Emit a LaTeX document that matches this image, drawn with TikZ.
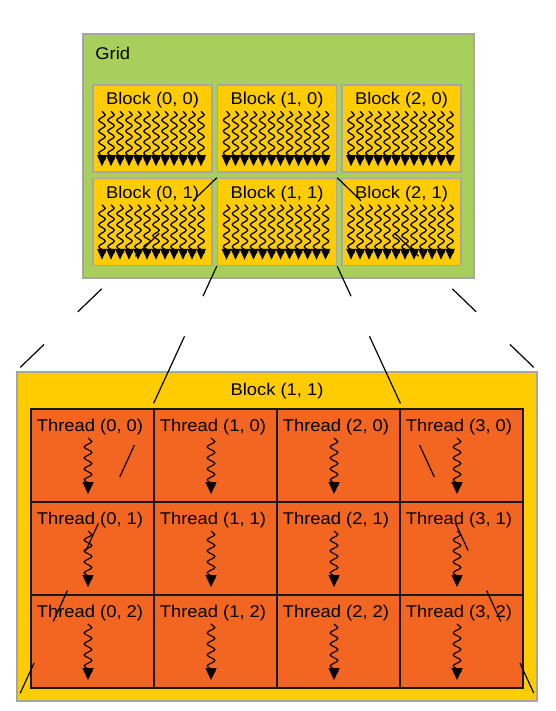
\documentclass[tikz,border=0pt]{standalone}
\usepackage{fontspec}
\setmainfont[FakeStretch=1.08]{Liberation Sans}
\usetikzlibrary{arrows.meta, positioning, decorations.pathmorphing}
\definecolor{gridgreen}{RGB}{168,206,92}
\definecolor{blockyellow}{RGB}{255,204,0}
\definecolor{threadorange}{RGB}{242,102,34}

\begin{document}
\begin{tikzpicture}[
    x=1pt, y=-1pt,
    gridbox/.style={rectangle, draw=black!35, fill=gridgreen, line width=1.5pt, minimum width=391pt, minimum height=244pt, inner sep=0pt},
    blockbox/.style={rectangle, draw=black!35, fill=blockyellow, line width=1.5pt, minimum width=119pt, minimum height=87pt, inner sep=0pt},
    bigbox/.style={rectangle, draw=black!35, fill=blockyellow, line width=1.5pt, minimum width=520pt, minimum height=329pt, inner sep=0pt},
    threadbox/.style={rectangle, draw=black!90, fill=threadorange, line width=1.2pt, minimum width=123pt, minimum height=93pt, inner sep=0pt, outer sep=0pt},
    lbl/.style={font=\fontsize{17}{20}\selectfont, inner sep=0pt},
    warp/.style={line width=1.3pt, decorate, decoration={snake, amplitude=3.2pt, segment length=11pt, post length=3pt}, -{Triangle[width=9.5pt, length=11pt]}},
    tarrow/.style={line width=1.2pt, decorate, decoration={snake, amplitude=3.8pt, segment length=11pt, post length=3pt}, -{Triangle[width=11pt, length=12pt]}},
    zoomline/.style={line width=1.2pt, dash pattern=on 33pt off 47pt},
    zoomline inner/.style={line width=1.2pt, dash pattern=on 33pt off 44pt on 74pt off 46pt on 35pt off 51pt on 30pt off 44pt on 34pt off 46pt on 33pt off 200pt}
]
\path[use as bounding box, fill=white] (0,0) rectangle (555,711);

% Grid with its blocks (top)
\node[gridbox] (grid_box) at (278.5,156) {};
\node[lbl, anchor=west] (grid_lbl) at ([xshift=13pt, yshift=-20pt]grid_box.north west) {Grid};

\node[blockbox] (blk_00) at (152.5,128.5) {};
\node[blockbox, right=4pt of blk_00] (blk_10) {};
\node[blockbox, right=4pt of blk_10] (blk_20) {};
\node[blockbox, below=5pt of blk_00] (blk_01) {};
\node[blockbox, right=4pt of blk_01] (blk_11) {};
\node[blockbox, right=4pt of blk_11] (blk_21) {};

\node[lbl] (blk_00_lbl) at ([yshift=-16pt]blk_00.north) {Block (0, 0)};
\node[lbl] (blk_10_lbl) at ([yshift=-16pt]blk_10.north) {Block (1, 0)};
\node[lbl] (blk_20_lbl) at ([yshift=-16pt]blk_20.north) {Block (2, 0)};
\node[lbl] (blk_01_lbl) at ([yshift=-16pt]blk_01.north) {Block (0, 1)};
\node[lbl] (blk_11_lbl) at ([yshift=-16pt]blk_11.north) {Block (1, 1)};
\node[lbl] (blk_21_lbl) at ([yshift=-16pt]blk_21.north) {Block (2, 1)};

% threads inside each block
\foreach \b in {blk_00, blk_10, blk_20, blk_01, blk_11, blk_21} {
  \foreach \i in {0,...,11} {
    \draw[warp] ([xshift={-50.5pt+9pt*\i}, yshift=-27pt]\b.north) -- ([xshift={-50.5pt+9pt*\i}, yshift=-82pt]\b.north);
  }
}

% Block (1, 1) enlarged (bottom)
\node[bigbox] (big_box) at (277,536.5) {};
\node[lbl] (big_lbl) at ([yshift=-20pt]big_box.north) {Block (1, 1)};

\node[threadbox] (thr_00) at (92.5,455.5) {};
\node[threadbox, right=0pt of thr_00] (thr_10) {};
\node[threadbox, right=0pt of thr_10] (thr_20) {};
\node[threadbox, right=0pt of thr_20] (thr_30) {};
\node[threadbox, below=0pt of thr_00] (thr_01) {};
\node[threadbox, right=0pt of thr_01] (thr_11) {};
\node[threadbox, right=0pt of thr_11] (thr_21) {};
\node[threadbox, right=0pt of thr_21] (thr_31) {};
\node[threadbox, below=0pt of thr_01] (thr_02) {};
\node[threadbox, right=0pt of thr_02] (thr_12) {};
\node[threadbox, right=0pt of thr_12] (thr_22) {};
\node[threadbox, right=0pt of thr_22] (thr_32) {};

\foreach \t/\txt in {thr_00/{(0, 0)}, thr_10/{(1, 0)}, thr_20/{(2, 0)}, thr_30/{(3, 0)},
                     thr_01/{(0, 1)}, thr_11/{(1, 1)}, thr_21/{(2, 1)}, thr_31/{(3, 1)},
                     thr_02/{(0, 2)}, thr_12/{(1, 2)}, thr_22/{(2, 2)}, thr_32/{(3, 2)}} {
  \node[lbl] (\t_lbl) at ([xshift=-2.5pt, yshift=-18pt]\t.north) {Thread \txt};
  \draw[tarrow] ([xshift=-4.5pt, yshift=-29pt]\t.north) -- ([xshift=-4.5pt, yshift=-85pt]\t.north);
}

% zoom lines from Block (1, 1) to its enlarged view
\draw[zoomline] (blk_11.north west) -- (big_box.north west);
\draw[zoomline] (blk_11.north east) -- (big_box.north east);
\draw[zoomline inner] (blk_11.south west) -- (big_box.south west);
\draw[zoomline inner] (blk_11.south east) -- (big_box.south east);

\end{tikzpicture}
\end{document}
